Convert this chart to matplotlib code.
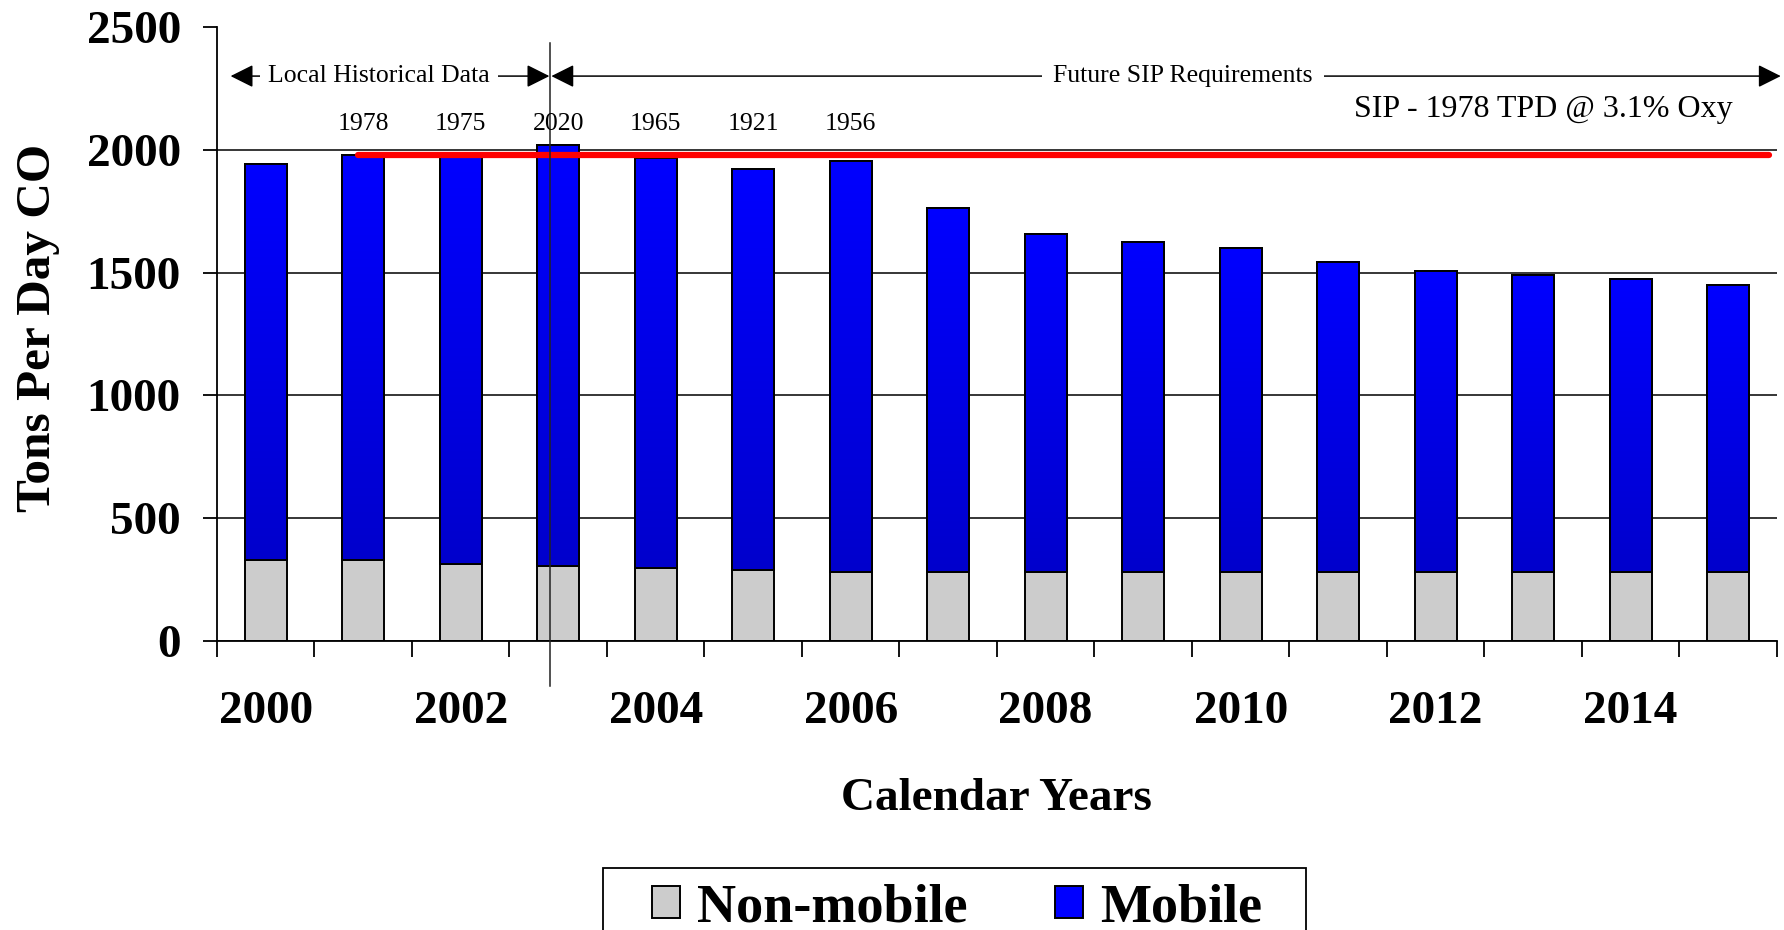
import numpy as np
import matplotlib
matplotlib.use('Agg')
import matplotlib.pyplot as plt
from matplotlib.patches import Rectangle
from matplotlib.colors import LinearSegmentedColormap

plt.rcParams['font.family'] = ['Liberation Serif', 'DejaVu Serif']

# Data (tons per day CO)
years = [2000, 2001, 2002, 2003, 2004, 2005, 2006, 2007,
         2008, 2009, 2010, 2011, 2012, 2013, 2014, 2015]
non_mobile = [330, 330, 313, 305, 297, 289, 281, 281,
              281, 281, 281, 281, 281, 281, 281, 281]
mobile = [1613, 1648, 1662, 1715, 1668, 1632, 1675, 1483,
          1378, 1344, 1321, 1264, 1224, 1209, 1191, 1167]
labelled_years = [2001, 2002, 2003, 2004, 2005, 2006]
sip_level = 1978
sip_text = 'SIP - 1978 TPD @ 3.1% Oxy'

x = np.arange(len(years))
totals = np.array(non_mobile) + np.array(mobile)

fig = plt.figure(figsize=(17.84, 9.3), dpi=100)
ax = fig.add_axes([0.1216, 0.3108, 0.8744, 0.6602])

bar_w = 0.43
lw = 1.4
ax.bar(x, non_mobile, width=bar_w, color='#cccccc', edgecolor='black',
       linewidth=lw, label='Non-mobile', zorder=2)
mob_bars = ax.bar(x, mobile, bottom=non_mobile, width=bar_w, color='#0000ff',
                  edgecolor='black', linewidth=lw, label='Mobile', zorder=2)

# vertical gradient inside each mobile bar (bright on top, darker at bottom)
grad_cmap = LinearSegmentedColormap.from_list('blue_grad', ['#0000cc', '#0000ff'])
grad = np.linspace(0, 1, 256).reshape(-1, 1)
for p in mob_bars.patches:
    x0, y0 = p.get_x(), p.get_y()
    im = ax.imshow(grad, cmap=grad_cmap, origin='lower', aspect='auto',
                   extent=(x0, x0 + p.get_width(), y0, y0 + p.get_height()),
                   zorder=2.1)
    im.set_clip_path(p)
    ax.add_patch(Rectangle((x0, y0), p.get_width(), p.get_height(), fill=False,
                           edgecolor='black', linewidth=lw, zorder=2.2))

ax.set_xlim(-0.5, 15.5)
ax.set_ylim(0, 2500)
ax.set_aspect('auto')

# SIP requirement line
ax.plot([0.95, 15.42], [sip_level, sip_level], color='#ff0000', linewidth=4.5,
        solid_capstyle='round', zorder=4)

# grid and axes styling
ax.set_yticks([0, 500, 1000, 1500, 2000, 2500])
ax.yaxis.grid(True, color='black', linewidth=1.1)
ax.set_axisbelow(True)
ax.get_ygridlines()[-1].set_visible(False)
for s in ['top', 'right']:
    ax.spines[s].set_visible(False)
for s in ['left', 'bottom']:
    ax.spines[s].set_linewidth(1.3)

ax.set_xticks(x[::2])
ax.set_xticklabels([str(y) for y in years[::2]])
ax.set_xticks(np.arange(-0.5, 16, 1), minor=True)
ax.tick_params(axis='x', which='major', length=0, pad=36, labelsize=34)
ax.tick_params(axis='x', which='minor', length=11.5, width=1.3, direction='out')
ax.tick_params(axis='y', length=10, width=1.3, direction='out', pad=16, labelsize=34)
for t in ax.get_xticklabels() + ax.get_yticklabels():
    t.set_fontweight('bold')

ax.set_xlabel('Calendar Years', fontsize=34, fontweight='bold', va='center')
ax.xaxis.set_label_coords(0.5, -0.257)
ax.set_ylabel('Tons Per Day CO', fontsize=35.5, fontweight='bold', va='center')
ax.yaxis.set_label_coords(-0.115, 0.51)

# boundary between historical and future data
ax.plot([2.92, 2.92], [-185, 2435], color='#222222', linewidth=1.1,
        clip_on=False, zorder=5)

arrow_y = 2300
arrow_kw = dict(arrowstyle='<|-|>,head_length=1.0,head_width=0.5',
                mutation_scale=14, color='black', linewidth=1.1,
                shrinkA=0, shrinkB=0)
ax.annotate('', xy=(-0.36, arrow_y), xytext=(2.91, arrow_y),
            arrowprops=arrow_kw, annotation_clip=False)
ax.annotate('', xy=(2.93, arrow_y), xytext=(15.54, arrow_y),
            arrowprops=arrow_kw, annotation_clip=False)
ax.text(1.16, arrow_y, 'Local Historical Data', fontsize=18.5, ha='center',
        va='center', bbox=dict(facecolor='white', edgecolor='none', pad=6),
        zorder=6)
ax.text(9.41, arrow_y, 'Future SIP Requirements', fontsize=18.5, ha='center',
        va='center', bbox=dict(facecolor='white', edgecolor='none', pad=8),
        zorder=6)
ax.text(13.1, 2162, sip_text, fontsize=23, ha='center', va='center', zorder=6)

for yr in labelled_years:
    i = years.index(yr)
    ax.text(x[i], 2105, f'{totals[i]:.0f}', fontsize=18.5, ha='center',
            va='center', zorder=6)

# legend
fig.legend(loc='center left', bbox_to_anchor=(0.3655, 0.0235), ncol=2,
           frameon=False, borderpad=0, borderaxespad=0,
           prop=dict(family='Liberation Serif', weight='bold', size=39),
           handlelength=0.52, handleheight=0.52, handletextpad=0.31,
           columnspacing=1.62)
fig.add_artist(Rectangle((603 / 1784, -0.02), 703 / 1784, 62 / 930 + 0.02,
                         transform=fig.transFigure, fill=False,
                         edgecolor='black', linewidth=1.3, clip_on=False))

fig.savefig('out.png', dpi=100)
